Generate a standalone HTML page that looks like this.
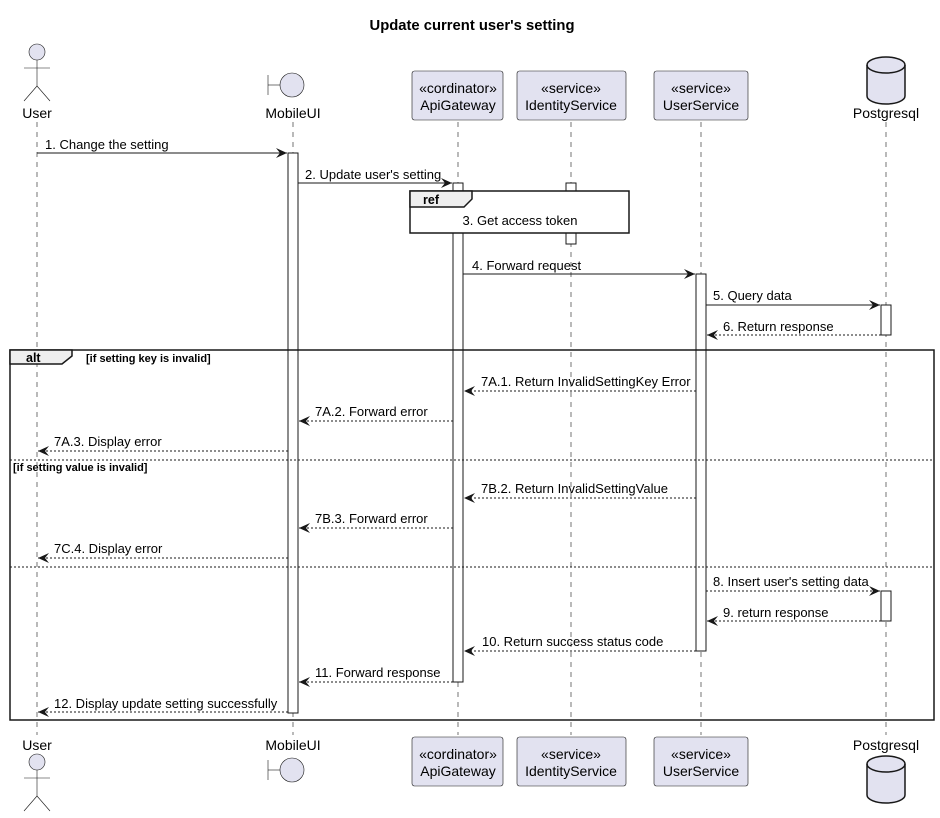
<!DOCTYPE html>
<html><head><meta charset="utf-8"><style>
body{margin:0;background:#fff}
svg{display:block;font-family:"Liberation Sans",sans-serif}
.m{font-size:13px;fill:#000}
.p{font-size:14px;fill:#000}
</style></head><body>
<svg width="940" height="818" viewBox="0 0 940 818" xmlns="http://www.w3.org/2000/svg">
<defs>
<marker id="a" markerWidth="12" markerHeight="10" refX="11" refY="5" orient="auto" markerUnits="userSpaceOnUse"><polygon points="0,0 11,5 0,10 4,5" fill="#181818"/></marker>
</defs>
<text x="472" y="30" text-anchor="middle" font-weight="bold" font-size="14.8">Update current user's setting</text>
<g stroke="#181818" stroke-width="0.6" stroke-dasharray="5,5">
<line x1="37" y1="122" x2="37" y2="735"/>
<line x1="293" y1="122" x2="293" y2="735"/>
<line x1="458" y1="122" x2="458" y2="735"/>
<line x1="571" y1="122" x2="571" y2="735"/>
<line x1="701" y1="122" x2="701" y2="735"/>
<line x1="886" y1="122" x2="886" y2="735"/>
</g>
<g fill="#E2E2F0" stroke="#181818" stroke-width="0.6">
<circle cx="37" cy="52" r="8"/>
<line x1="37" y1="60" x2="37" y2="86"/><line x1="24" y1="68" x2="50" y2="68"/>
<line x1="37" y1="86" x2="24" y2="101"/><line x1="37" y1="86" x2="50" y2="101"/>
<line x1="268" y1="75" x2="268" y2="95"/><line x1="268" y1="85" x2="280" y2="85"/><circle cx="292" cy="85" r="12"/>
<rect x="412" y="71" width="91" height="49" rx="2.5"/>
<rect x="517" y="71" width="109" height="49" rx="2.5"/>
<rect x="654" y="71" width="94" height="49" rx="2.5"/>
</g>
<g fill="#E2E2F0" stroke="#181818" stroke-width="1.5">
<path d="M867,65 a19,8 0 0 1 38,0 v31 a19,8 0 0 1 -38,0 z"/><path d="M867,65 a19,8 0 0 0 38,0" fill="none"/>
<path d="M867,764 a19,8 0 0 1 38,0 v31 a19,8 0 0 1 -38,0 z"/><path d="M867,764 a19,8 0 0 0 38,0" fill="none"/>
</g>
<g fill="#E2E2F0" stroke="#181818" stroke-width="0.6">
<circle cx="37" cy="762" r="8"/>
<line x1="37" y1="770" x2="37" y2="796"/><line x1="24" y1="778" x2="50" y2="778"/>
<line x1="37" y1="796" x2="24" y2="811"/><line x1="37" y1="796" x2="50" y2="811"/>
<line x1="268" y1="760" x2="268" y2="780"/><line x1="268" y1="770" x2="280" y2="770"/><circle cx="292" cy="770" r="12"/>
<rect x="412" y="737" width="91" height="49" rx="2.5"/>
<rect x="517" y="737" width="109" height="49" rx="2.5"/>
<rect x="654" y="737" width="94" height="49" rx="2.5"/>
</g>
<g class="p" text-anchor="middle">
<text x="37" y="118">User</text><text x="293" y="118">MobileUI</text>
<text x="458" y="93">«cordinator»</text><text x="458" y="110">ApiGateway</text>
<text x="571" y="93">«service»</text><text x="571" y="110">IdentityService</text>
<text x="701" y="93">«service»</text><text x="701" y="110">UserService</text>
<text x="886" y="118">Postgresql</text>
<text x="37" y="750">User</text><text x="293" y="750">MobileUI</text>
<text x="458" y="759">«cordinator»</text><text x="458" y="776">ApiGateway</text>
<text x="571" y="759">«service»</text><text x="571" y="776">IdentityService</text>
<text x="701" y="759">«service»</text><text x="701" y="776">UserService</text>
<text x="886" y="750">Postgresql</text>
</g>
<g fill="#fff" stroke="#181818" stroke-width="1">
<rect x="288" y="153" width="10" height="560"/>
<rect x="453" y="183" width="10" height="499"/>
<rect x="566" y="183" width="10" height="61"/>
<rect x="696" y="274" width="10" height="377"/>
<rect x="881" y="305" width="10" height="30"/>
<rect x="881" y="591" width="10" height="30"/>
</g>
<rect x="410" y="191" width="219" height="42" fill="#fff" stroke="#181818" stroke-width="1.5"/>
<path d="M410,191 H472 V199 L464,207 H410 Z" fill="#EEEEEE" stroke="#181818" stroke-width="1.5"/>
<text x="423" y="204" font-weight="bold" font-size="12.5">ref</text>
<text x="520" y="225" text-anchor="middle" class="m" font-size="12">3. Get access token</text>
<rect x="10" y="350" width="924" height="370" fill="none" stroke="#181818" stroke-width="1.5"/>
<path d="M10,350 H72 V356 L62,364 H10 Z" fill="#EEEEEE" stroke="#181818" stroke-width="1.5"/>
<text x="26" y="362" font-weight="bold" font-size="12.5">alt</text>
<text x="86" y="362" font-weight="bold" font-size="11">[if setting key is invalid]</text>
<g stroke="#181818" stroke-width="1" stroke-dasharray="2,2"><line x1="10" y1="460" x2="934" y2="460"/><line x1="10" y1="567" x2="934" y2="567"/></g>
<text x="13" y="471" font-weight="bold" font-size="11">[if setting value is invalid]</text>
<g stroke="#181818" stroke-width="1" marker-end="url(#a)">
<line x1="37" y1="153" x2="287" y2="153"/>
<line x1="298" y1="183" x2="452" y2="183"/>
<line x1="463" y1="274" x2="695" y2="274"/>
<line x1="706" y1="305" x2="880" y2="305"/>
</g>
<g stroke="#181818" stroke-width="1" stroke-dasharray="2,2" marker-end="url(#a)">
<line x1="881" y1="335" x2="707" y2="335"/>
<line x1="696" y1="391" x2="464" y2="391"/>
<line x1="453" y1="421" x2="299" y2="421"/>
<line x1="288" y1="451" x2="38" y2="451"/>
<line x1="696" y1="498" x2="464" y2="498"/>
<line x1="453" y1="528" x2="299" y2="528"/>
<line x1="288" y1="558" x2="38" y2="558"/>
<line x1="706" y1="591" x2="880" y2="591"/>
<line x1="881" y1="621" x2="707" y2="621"/>
<line x1="696" y1="651" x2="464" y2="651"/>
<line x1="453" y1="682" x2="299" y2="682"/>
<line x1="288" y1="712" x2="38" y2="712"/>
</g>
<g class="m">
<text x="45" y="149">1. Change the setting</text>
<text x="305" y="179">2. Update user's setting</text>
<text x="472" y="270">4. Forward request</text>
<text x="713" y="300">5. Query data</text>
<text x="723" y="331">6. Return response</text>
<text x="481" y="386">7A.1. Return InvalidSettingKey Error</text>
<text x="315" y="416">7A.2. Forward error</text>
<text x="54" y="446">7A.3. Display error</text>
<text x="481" y="493">7B.2. Return InvalidSettingValue</text>
<text x="315" y="523">7B.3. Forward error</text>
<text x="54" y="553">7C.4. Display error</text>
<text x="713" y="586">8. Insert user's setting data</text>
<text x="723" y="617">9. return response</text>
<text x="482" y="646">10. Return success status code</text>
<text x="315" y="677">11. Forward response</text>
<text x="54" y="708">12. Display update setting successfully</text>
</g>
</svg>
</body></html>
